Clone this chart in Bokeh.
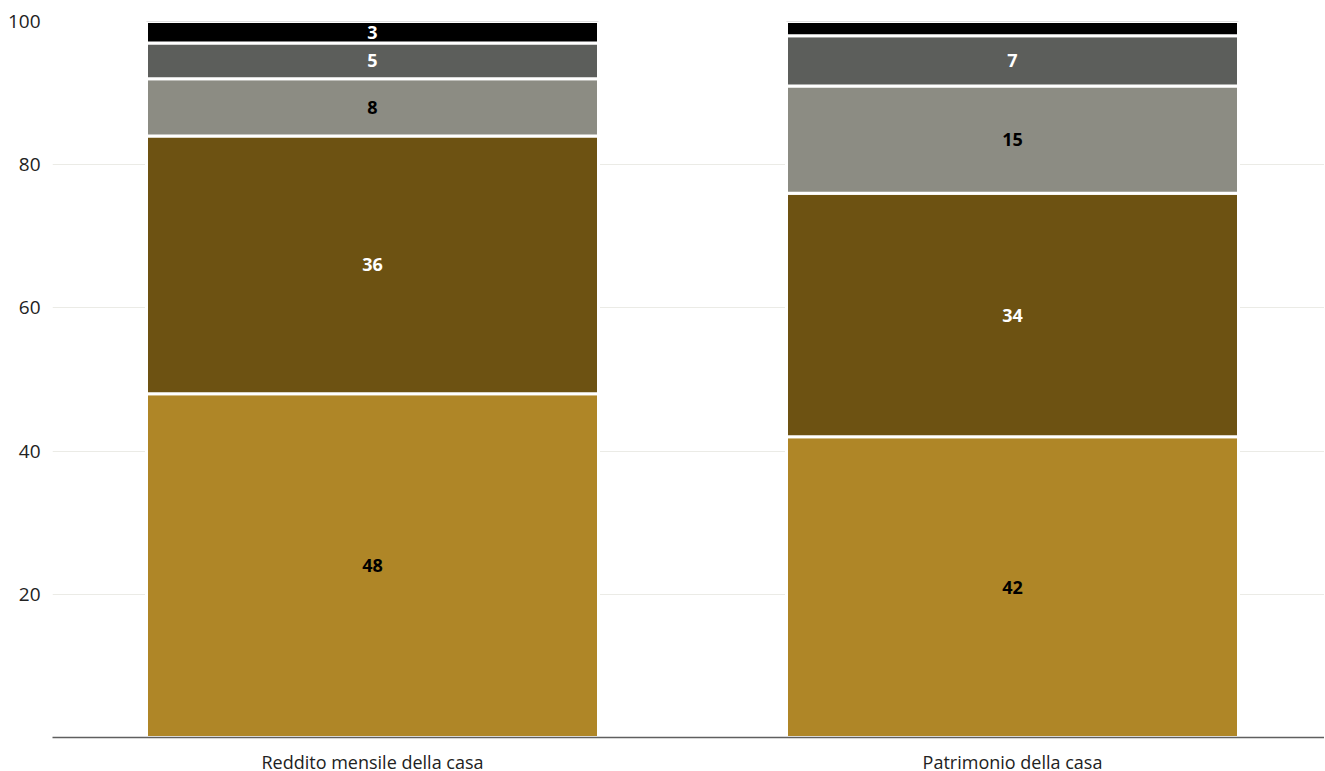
from bokeh.plotting import figure
from bokeh.models import ColumnDataSource, Range1d, FixedTicker
from bokeh.core.properties import value
from bokeh.embed import file_html
from bokeh.resources import INLINE

categories = ["Reddito mensile della casa", "Patrimonio della casa"]
series_a = [48, 42]
series_b = [36, 34]
series_c = [8, 15]
series_d = [5, 7]
series_e = [3, 2]
series = [series_a, series_b, series_c, series_d, series_e]
series_names = ["a", "b", "c", "d", "e"]
colors = ["#AF8627", "#6D5212", "#8C8C83", "#5C5E5B", "#000000"]
label_colors = ["#000000", "#FFFFFF", "#000000", "#FFFFFF", "#FFFFFF"]
y_ticks = [20, 40, 60, 80, 100]

FONT = "Open Sans"

xs = [i + 0.5 for i in range(len(categories))]
data = {"x": xs}
for name, vals in zip(series_names, series):
    data[name] = vals
source = ColumnDataSource(data)

p = figure(frame_width=1272, frame_height=716, output_backend="svg", toolbar_location=None,
           x_range=Range1d(0, 1272 / 640), y_range=Range1d(0, 100),
           min_border_left=52, min_border_right=0, min_border_top=21, min_border_bottom=28)
p.outline_line_color = None
p.background_fill_color = "white"

p.vbar_stack(series_names, x="x", width=452 / 640, color=colors, source=source,
             line_color="white", line_width=3)

# segment labels
lx, ly, lt, lc = [], [], [], []
for j, x in enumerate(xs):
    base = 0
    for k, vals in enumerate(series):
        v = vals[j]
        if v >= 3:
            lx.append(x)
            ly.append(base + v / 2)
            lt.append(str(v))
            lc.append(label_colors[k])
        base += v
lsrc = ColumnDataSource(dict(x=lx, y=ly, t=lt, c=lc))
p.text(x="x", y="y", text="t", text_color="c", source=lsrc, text_align="center",
       text_baseline="middle", text_font=value(FONT), text_font_style="bold",
       text_font_size="18px")

# axes
p.yaxis.ticker = FixedTicker(ticks=y_ticks)
p.yaxis.axis_line_color = None
p.yaxis.major_tick_line_color = None
p.yaxis.minor_tick_line_color = None
p.yaxis.major_label_text_font = FONT
p.yaxis.major_label_text_font_size = "19px"
p.yaxis.major_label_text_color = "#222222"
p.yaxis.major_label_standoff = 6

p.xaxis.ticker = FixedTicker(ticks=xs)
p.xaxis.major_label_overrides = {x: c for x, c in zip(xs, categories)}
p.xaxis.axis_line_color = "#5f5f5f"
p.xaxis.axis_line_width = 1.5
p.xaxis.major_tick_line_color = None
p.xaxis.minor_tick_line_color = None
p.xaxis.major_label_text_font = FONT
p.xaxis.major_label_text_font_size = "18px"
p.xaxis.major_label_text_color = "#222222"
p.xaxis.major_label_standoff = 6

p.xgrid.grid_line_color = None
p.ygrid.ticker = FixedTicker(ticks=y_ticks)
p.ygrid.grid_line_color = "#ebebe6"
p.ygrid.grid_line_width = 1

open("out.html", "w").write(file_html(p, INLINE))
